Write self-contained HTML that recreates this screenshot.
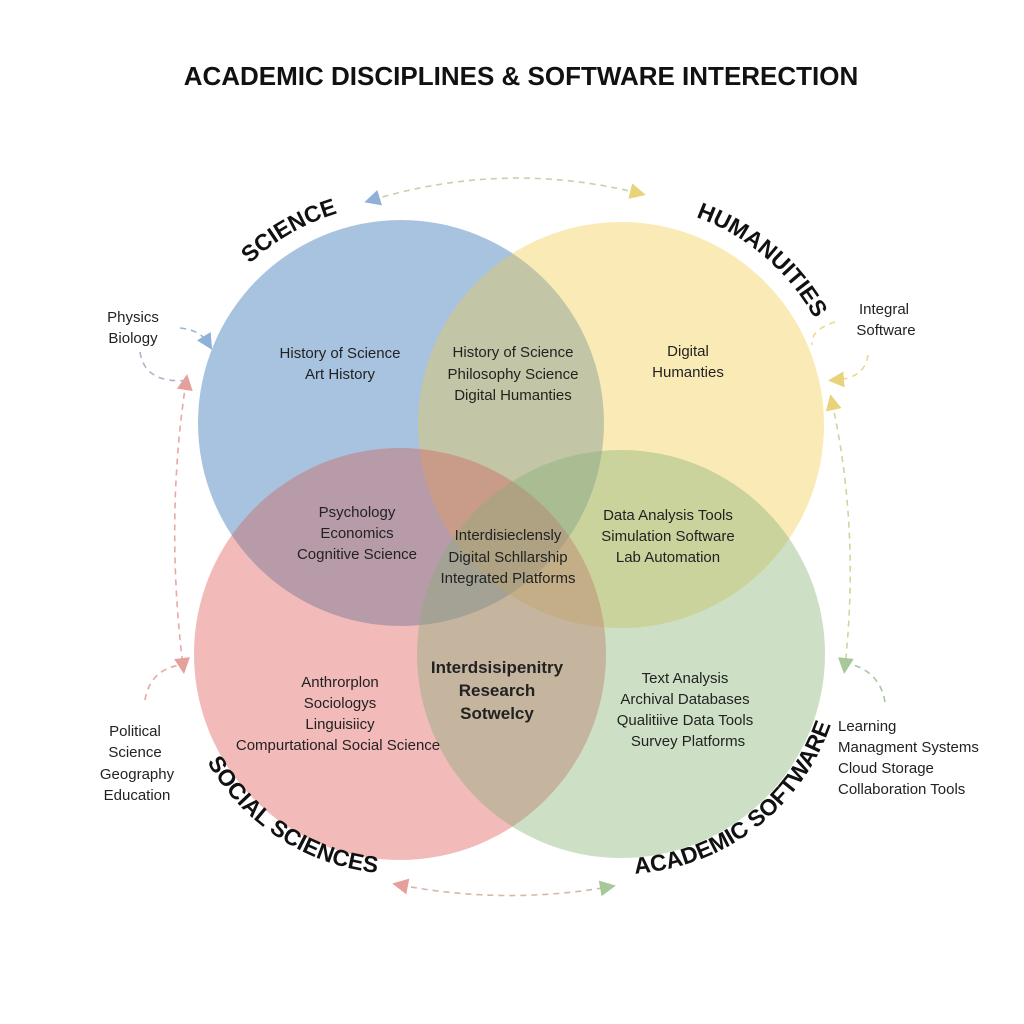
<!DOCTYPE html>
<html><head><meta charset="utf-8"><style>
html,body{margin:0;padding:0;background:#fff;}
svg{display:block;font-family:"Liberation Sans","DejaVu Sans",sans-serif;}
.t{font-size:15px;fill:#222;text-anchor:middle;}
.s{font-size:15px;fill:#222;}
.h{font-size:23px;font-weight:bold;fill:#111;}
</style></head><body>
<svg width="1024" height="1024" viewBox="0 0 1024 1024">
<defs>
<marker id="ab" markerWidth="10" markerHeight="10" refX="5" refY="5" orient="auto-start-reverse"><path d="M0,0 L10,5 L0,10 Z" fill="#8fb0d8"/></marker>
<marker id="ay" markerWidth="10" markerHeight="10" refX="5" refY="5" orient="auto-start-reverse"><path d="M0,0 L10,5 L0,10 Z" fill="#e8d27a"/></marker>
<marker id="ar" markerWidth="10" markerHeight="10" refX="5" refY="5" orient="auto-start-reverse"><path d="M0,0 L10,5 L0,10 Z" fill="#e6a09c"/></marker>
<marker id="ag" markerWidth="10" markerHeight="10" refX="5" refY="5" orient="auto-start-reverse"><path d="M0,0 L10,5 L0,10 Z" fill="#a6c89a"/></marker>
<path id="pSci" d="M 180,425 A 221,221 0 0 1 401,204"/>
<path id="pHum" d="M 621,204 A 221,221 0 0 1 842,425"/>
<path id="pSoc" d="M 178,652 A 222,222 0 0 0 400,874"/>
<path id="pAca" d="M 621,874 A 222,222 0 0 0 843,652"/>
</defs>
<text x="521" y="85" text-anchor="middle" style="font-size:26px;font-weight:bold;fill:#111">ACADEMIC DISCIPLINES &amp; SOFTWARE INTERECTION</text>

<g>
<circle cx="401" cy="423" r="203" fill="#a8c3e0"/>
<circle cx="621" cy="425" r="203" fill="#f8e49e" style="mix-blend-mode:multiply" opacity="0.62"/>
<circle cx="621" cy="425" r="203" fill="#f8e49e" opacity="0.35"/>
<circle cx="400" cy="654" r="206" fill="#eea6a2" style="mix-blend-mode:multiply" opacity="0.65"/>
<circle cx="400" cy="654" r="206" fill="#eea6a2" opacity="0.3"/>
<circle cx="621" cy="654" r="204" fill="#bed6b2" style="mix-blend-mode:multiply" opacity="0.65"/>
<circle cx="621" cy="654" r="204" fill="#bed6b2" opacity="0.3"/>
</g>

<text class="h"><textPath href="#pSci" startOffset="52%">SCIENCE</textPath></text>
<text class="h"><textPath href="#pHum" startOffset="22%">HUMANUITIES</textPath></text>
<text class="h"><textPath href="#pSoc" startOffset="33%">SOCIAL SCIENCES</textPath></text>
<text class="h"><textPath href="#pAca" startOffset="4%">ACADEMIC SOFTWARE</textPath></text>

<g class="t">
<text x="340" y="358">History of Science</text><text x="340" y="379">Art History</text>
<text x="513" y="357">History of Science</text><text x="513" y="379">Philosophy Science</text><text x="513" y="400">Digital Humanties</text>
<text x="688" y="356">Digital</text><text x="688" y="377">Humanties</text>
<text x="357" y="517">Psychology</text><text x="357" y="538">Economics</text><text x="357" y="559">Cognitive Science</text>
<text x="508" y="540">Interdisieclensly</text><text x="508" y="562">Digital Schllarship</text><text x="508" y="583">Integrated Platforms</text>
<text x="668" y="520">Data Analysis Tools</text><text x="668" y="541">Simulation Software</text><text x="668" y="562">Lab Automation</text>
<text x="340" y="687">Anthrorplon</text><text x="340" y="708">Sociologys</text><text x="340" y="729">Linguisiicy</text><text x="338" y="750">Compurtational Social Science</text>
<text x="497" y="673" style="font-size:17px;font-weight:bold">Interdsisipenitry</text><text x="497" y="696" style="font-size:17px;font-weight:bold">Research</text><text x="497" y="719" style="font-size:17px;font-weight:bold">Sotwelcy</text>
<text x="685" y="683">Text Analysis</text><text x="685" y="704">Archival Databases</text><text x="685" y="725">Qualitiive Data Tools</text><text x="688" y="746">Survey Platforms</text>
<text x="133" y="322">Physics</text><text x="133" y="343">Biology</text>
<text x="884" y="314">Integral</text><text x="886" y="335">Software</text>
<text x="135" y="736">Political</text><text x="135" y="757">Science</text><text x="137" y="779">Geography</text><text x="137" y="800">Education</text>
</g>
<g class="s">
<text x="838" y="731">Learning</text><text x="838" y="752">Managment Systems</text><text x="838" y="773">Cloud Storage</text><text x="838" y="794">Collaboration Tools</text>
</g>

<g fill="none" stroke-width="1.6" stroke-dasharray="6,5">
<path d="M372,200 Q505,160 638,193" stroke="#c8cfae" marker-start="url(#ab)" marker-end="url(#ay)"/>
<path d="M400,885 Q505,905 608,887" stroke="#d4b8a8" marker-start="url(#ar)" marker-end="url(#ag)"/>
<path d="M186,382 Q165,520 183,666" stroke="#e6a8a4" marker-start="url(#ar)" marker-end="url(#ar)"/>
<path d="M832,402 Q860,530 845,666" stroke="#cfd69a" marker-start="url(#ay)" marker-end="url(#ag)"/>
<path d="M180,328 Q200,330 208,343" stroke="#9ab6d6" marker-end="url(#ab)"/>
<path d="M140,352 Q145,385 190,380" stroke="#b8b0cc"/>
<path d="M835,322 Q810,330 812,345" stroke="#eed890"/>
<path d="M868,355 Q865,378 836,380" stroke="#eed890" marker-end="url(#ay)"/>
<path d="M145,700 Q150,670 180,665" stroke="#e6a8a4"/>
<path d="M885,702 Q880,672 850,664" stroke="#a6c89a"/>
</g>
</svg>
</body></html>
